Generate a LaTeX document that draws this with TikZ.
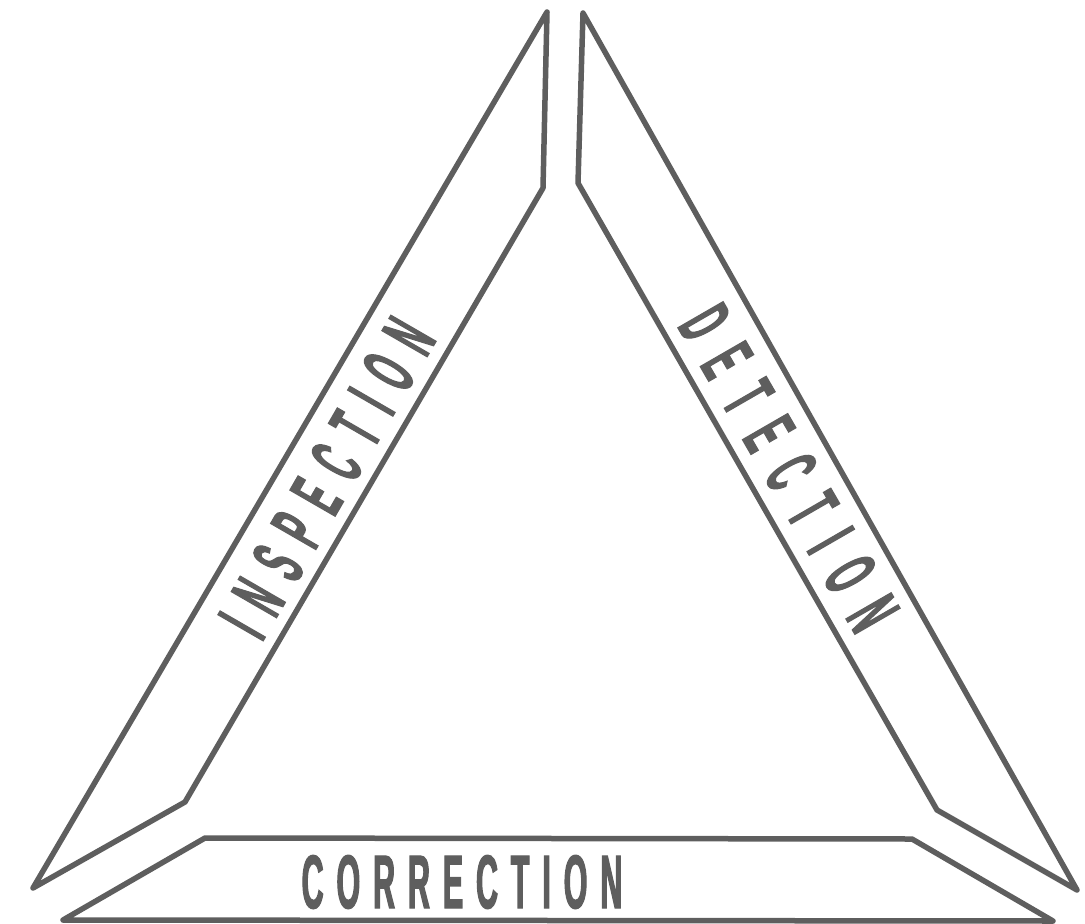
\documentclass[tikz,border=0pt]{standalone}
\usepackage{fontspec}
\newfontfamily\bandfont[FakeStretch=0.4, FakeBold=1.5]{Liberation Sans}
\usetikzlibrary{positioning}
\definecolor{ink}{HTML}{5E5E5E}

\tikzset{
  band/.style={draw=ink, line width=5.5pt, line join=round},
  bandtext/.style={text=ink, inner sep=0pt,
    font=\bandfont\bfseries\fontsize{76pt}{76pt}\selectfont}
}

\begin{document}
\begin{tikzpicture}[x=1pt,y=-1pt]
  \useasboundingbox (0,0) rectangle (1085,924);

  % corners of the three bands
  \coordinate (lTop) at (547,12);
  \coordinate (lNeck) at (543,188);
  \coordinate (lFoot) at (185,802);
  \coordinate (lTip) at (33,888);
  \coordinate (rTop) at (583,13);
  \coordinate (rNeck) at (578,183);
  \coordinate (rFoot) at (937,810);
  \coordinate (rTip) at (1077,890);
  \coordinate (bTopL) at (205,838);
  \coordinate (bTopR) at (912,839);
  \coordinate (bBotR) at (1053,921);
  \coordinate (bBotL) at (63,920);

  % left band
  \draw[band] (lTop) -- (lNeck) -- (lFoot) -- (lTip) -- cycle;
  % right band
  \draw[band] (rTop) -- (rNeck) -- (rFoot) -- (rTip) -- cycle;
  % bottom band
  \draw[band] (bTopL) -- (bTopR) -- (bBotR) -- (bBotL) -- cycle;

  % labels
  \node[bandtext, rotate=60] (insp) at (327,478)
    {\addfontfeatures{LetterSpace=24}INSPECTION};
  \node[bandtext, rotate=-60] (detc) at (789,468)
    {\addfontfeatures{LetterSpace=30}DETECTION};
  \node[bandtext] (corr) at (462,882)
    {\addfontfeatures{LetterSpace=17}CORRECTION};
\end{tikzpicture}
\end{document}
